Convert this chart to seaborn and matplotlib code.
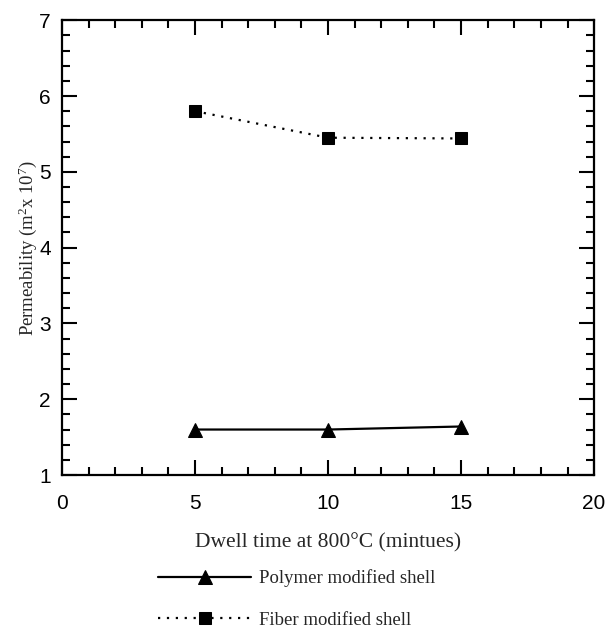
import matplotlib
matplotlib.use("Agg")
import matplotlib.pyplot as plt
import seaborn as sns
import pandas as pd
from matplotlib.ticker import MultipleLocator

dwell = [5, 10, 15]
polymer = [1.60, 1.60, 1.64]
fiber = [5.80, 5.45, 5.44]

sns.set_style("ticks")
plt.rcParams['font.family'] = ['Liberation Serif', 'DejaVu Serif']
plt.rcParams['mathtext.fontset'] = 'custom'
plt.rcParams['mathtext.rm'] = 'Liberation Serif'
plt.rcParams['mathtext.it'] = 'Liberation Serif'

df_p = pd.DataFrame({"x": dwell, "y": polymer})
df_f = pd.DataFrame({"x": dwell, "y": fiber})

fig = plt.figure(figsize=(6.05, 6.32), dpi=100)
ax = fig.add_axes([0.1025, 0.2484, 0.8795, 0.7196])

sns.lineplot(data=df_p, x="x", y="y", ax=ax, color="black", lw=1.6,
             marker="^", markersize=10, markeredgecolor="black",
             label="Polymer modified shell")
sns.lineplot(data=df_f, x="x", y="y", ax=ax, color="black", lw=1.6,
             linestyle=(0, (1, 3)), marker="s", markersize=9,
             markeredgecolor="black", label="Fiber modified shell")

ax.set_xlim(0, 20)
ax.set_ylim(1, 7)
ax.xaxis.set_major_locator(MultipleLocator(5))
ax.xaxis.set_minor_locator(MultipleLocator(1))
ax.yaxis.set_major_locator(MultipleLocator(1))
ax.yaxis.set_minor_locator(MultipleLocator(0.2))
ax.tick_params(which="both", direction="in", top=True, right=True, width=1.5, colors="black")
ax.tick_params(which="major", length=11, labelsize=15)
ax.tick_params(which="minor", length=6)
ax.tick_params(axis="x", which="major", pad=14)
ax.tick_params(axis="y", which="major", pad=8)
for lab in ax.get_xticklabels() + ax.get_yticklabels():
    lab.set_family(['Liberation Sans', 'DejaVu Sans'])
for s in ax.spines.values():
    s.set_linewidth(1.6)
    s.set_color("black")

ax.set_xlabel("Dwell time at 800°C (mintues)", fontsize=15.5, labelpad=14)
ax.set_ylabel("Permeability (m$^2$x 10$^7$)", fontsize=13.5, labelpad=0)

handles, labels = ax.get_legend_handles_labels()
ax.get_legend().remove()
fig.legend(handles, labels, loc="center", bbox_to_anchor=(0.49, 0.052),
           frameon=False, fontsize=13.5, handlelength=5, labelspacing=1.3,
           handletextpad=0.4)

fig.savefig("out.png", dpi=100)
